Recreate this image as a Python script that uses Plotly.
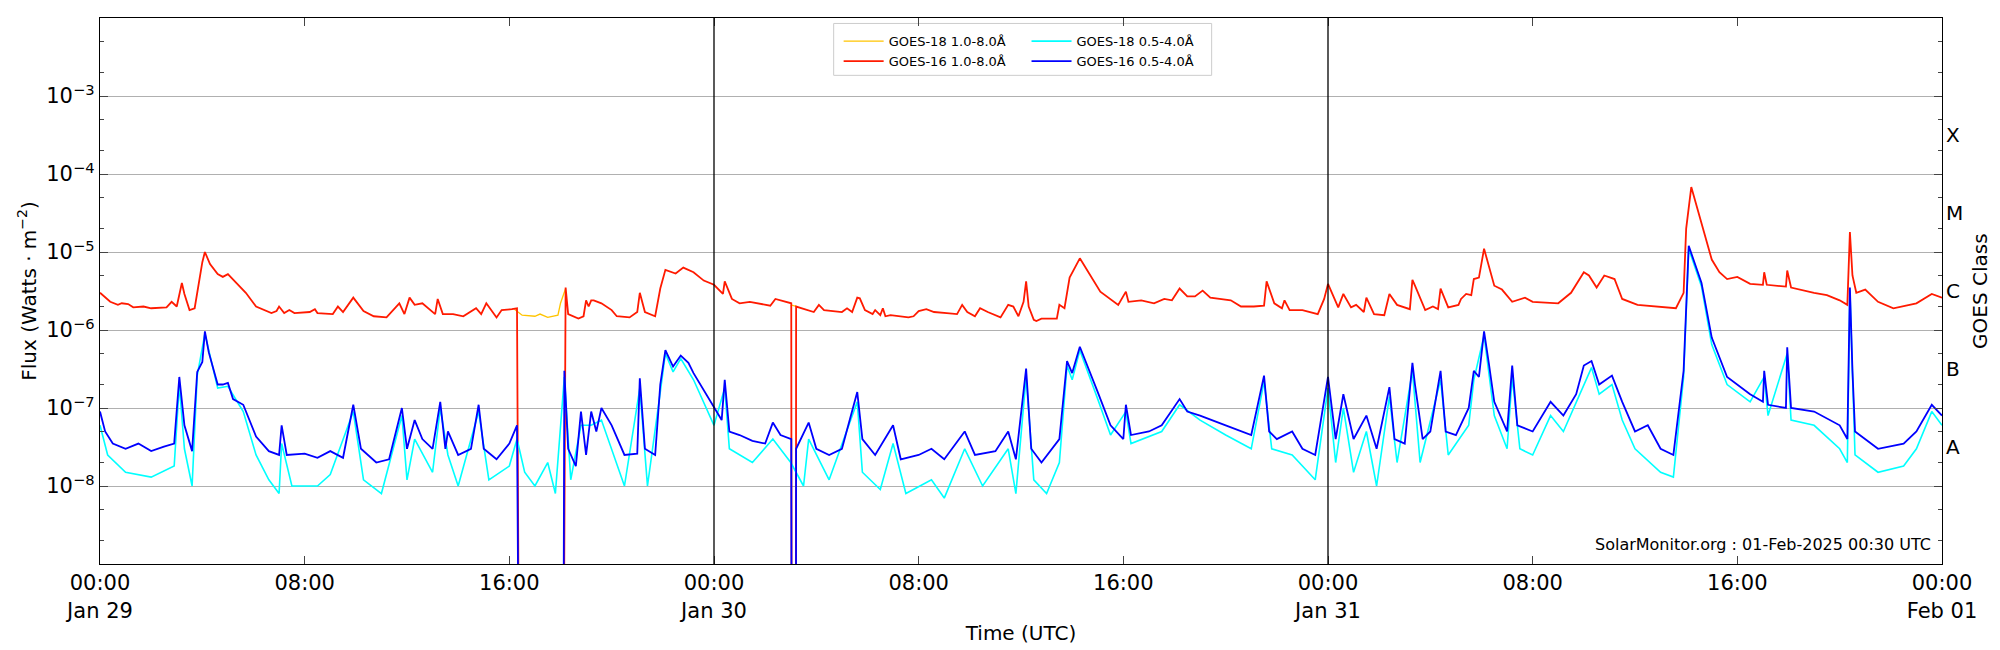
import plotly.graph_objects as go
import pandas as pd

BASE = pd.Timestamp("2025-01-29 00:00")
GAP = None
LOW = 1e-12  # data dropout (drawn as vertical drop to bottom)

red_h = [0.0,0.4,0.7,0.85,1.1,1.3,1.7,2.0,2.6,2.8,3.0,3.2,3.3,3.5,3.7,3.9,4.0,4.1,4.3,4.6,4.8,5.0,5.7,6.1,6.7,6.9,7.0,7.2,7.4,7.6,8.2,8.4,8.5,9.1,9.3,9.5,9.9,10.3,10.7,11.2,11.5,11.7,11.9,12.1,12.3,12.6,13.1,13.2,13.4,13.8,14.2,14.7,14.9,15.1,15.5,15.7,16.1,16.3,16.4,GAP,
         18.1,18.2,18.3,18.7,18.9,19.0,19.1,19.2,19.3,19.6,20.0,20.2,20.7,21.0,21.1,21.3,21.7,21.9,22.1,22.5,22.8,23.2,23.6,24.0,24.35,24.42,24.7,25.0,25.4,26.0,26.2,26.4,26.6,27.02,27.04,GAP,
         27.2,27.21,27.9,28.1,28.3,29.0,29.2,29.4,29.6,29.7,29.9,30.2,30.3,30.5,30.6,30.7,30.9,31.6,31.8,32.0,32.3,32.6,33.1,33.5,33.7,33.9,34.2,34.4,34.7,35.2,35.5,35.7,35.9,36.1,36.2,36.3,36.5,36.6,36.8,37.4,37.5,37.7,37.9,38.3,39.1,39.8,40.1,40.2,40.7,41.2,41.6,41.9,42.2,42.5,42.8,43.1,43.4,44.2,44.6,45.1,45.5,45.6,45.9,46.2,46.3,46.5,47.0,47.6,47.85,
         48.0,48.4,48.6,48.9,49.1,49.4,49.5,49.8,50.2,50.4,50.7,51.2,51.3,51.4,51.8,52.1,52.3,52.4,52.7,53.1,53.2,53.4,53.6,53.7,53.9,54.1,54.5,54.8,55.2,55.7,56.0,57.0,57.5,58.0,58.2,58.5,58.8,59.2,59.5,60.1,61.0,61.6,61.9,62.0,62.2,62.5,63.0,63.3,63.6,64.0,64.5,65.0,65.05,65.15,65.9,65.95,66.1,67.0,67.5,68.0,68.3,68.4,68.5,68.65,69.0,69.5,70.1,71.0,71.6,72.0]
red_v = [3.0e-6,2.3e-6,2.1e-6,2.2e-6,2.15e-6,1.95e-6,2.0e-6,1.9e-6,1.95e-6,2.3e-6,2.0e-6,4.0e-6,2.9e-6,1.8e-6,1.9e-6,4.5e-6,7.4e-6,1.0e-5,7.0e-6,5.2e-6,4.8e-6,5.2e-6,3.0e-6,2.0e-6,1.65e-6,1.75e-6,2.0e-6,1.65e-6,1.8e-6,1.65e-6,1.7e-6,1.85e-6,1.65e-6,1.6e-6,2.0e-6,1.7e-6,2.6e-6,1.75e-6,1.5e-6,1.45e-6,1.9e-6,2.2e-6,1.6e-6,2.6e-6,2.1e-6,2.2e-6,1.6e-6,2.5e-6,1.6e-6,1.6e-6,1.5e-6,1.9e-6,1.6e-6,2.2e-6,1.45e-6,1.8e-6,1.85e-6,1.9e-6,LOW,GAP,
         LOW,3.5e-6,1.6e-6,1.4e-6,1.5e-6,2.4e-6,2.0e-6,2.4e-6,2.4e-6,2.2e-6,1.8e-6,1.5e-6,1.45e-6,1.7e-6,3.0e-6,1.7e-6,1.5e-6,3.4e-6,5.9e-6,5.3e-6,6.3e-6,5.5e-6,4.3e-6,3.8e-6,2.9e-6,4.2e-6,2.5e-6,2.2e-6,2.3e-6,2.1e-6,2.05e-6,2.5e-6,2.4e-6,2.2e-6,LOW,GAP,
         LOW,2.0e-6,1.7e-6,2.1e-6,1.8e-6,1.7e-6,1.9e-6,1.7e-6,2.6e-6,2.55e-6,1.8e-6,1.6e-6,1.8e-6,1.55e-6,1.9e-6,1.5e-6,1.55e-6,1.45e-6,1.5e-6,1.75e-6,1.85e-6,1.7e-6,1.65e-6,1.6e-6,2.1e-6,1.7e-6,1.5e-6,1.9e-6,1.7e-6,1.45e-6,2.1e-6,2.0e-6,1.5e-6,2.3e-6,4.2e-6,2.0e-6,1.35e-6,1.3e-6,1.4e-6,1.4e-6,2.1e-6,1.9e-6,4.7e-6,8.3e-6,3.1e-6,2.1e-6,3.1e-6,2.3e-6,2.4e-6,2.2e-6,2.5e-6,2.4e-6,3.4e-6,2.7e-6,2.7e-6,3.2e-6,2.6e-6,2.4e-6,2.0e-6,2.0e-6,2.05e-6,4.2e-6,2.2e-6,1.9e-6,2.4e-6,1.8e-6,1.8e-6,1.6e-6,2.5e-6,
         3.9e-6,1.95e-6,2.9e-6,1.95e-6,2.1e-6,1.7e-6,2.6e-6,1.6e-6,1.55e-6,2.9e-6,2.1e-6,1.85e-6,4.4e-6,3.7e-6,1.8e-6,2.0e-6,1.85e-6,3.4e-6,1.95e-6,2.1e-6,2.5e-6,2.9e-6,2.8e-6,4.5e-6,4.7e-6,1.1e-5,3.7e-6,3.3e-6,2.3e-6,2.6e-6,2.3e-6,2.2e-6,3.0e-6,5.5e-6,5.0e-6,3.5e-6,5.0e-6,4.5e-6,2.5e-6,2.1e-6,2.0e-6,1.9e-6,3.0e-6,2.0e-5,6.8e-5,3.0e-5,8.0e-6,5.5e-6,4.5e-6,4.8e-6,3.9e-6,3.8e-6,5.5e-6,3.8e-6,3.6e-6,5.8e-6,3.5e-6,3.0e-6,2.8e-6,2.4e-6,2.1e-6,1.8e-5,5.0e-6,3.0e-6,3.3e-6,2.3e-6,1.9e-6,2.2e-6,2.9e-6,2.6e-6]

blue_h = [0.0,0.2,0.5,1.0,1.5,2.0,2.5,2.9,3.1,3.3,3.6,3.8,4.0,4.1,4.25,4.6,4.8,5.0,5.2,5.6,6.1,6.6,7.0,7.1,7.3,8.0,8.5,9.0,9.5,9.9,10.2,10.8,11.3,11.8,12.0,12.3,12.6,13.0,13.3,13.5,13.6,14.0,14.5,14.8,15.0,15.5,16.0,16.3,16.4,GAP,
          18.1,18.15,18.3,18.6,18.8,19.0,19.2,19.4,19.6,20.0,20.5,21.0,21.1,21.3,21.7,21.9,22.1,22.4,22.7,23.0,23.2,23.6,24.0,24.3,24.42,24.6,25.0,25.5,26.0,26.3,26.6,27.02,27.04,GAP,
          27.2,27.21,27.7,28.0,28.5,29.0,29.6,29.8,30.3,31.0,31.3,32.0,32.5,33.0,33.8,34.2,35.0,35.5,35.8,36.2,36.4,36.8,37.5,37.8,38.0,38.3,39.0,39.5,40.0,40.1,40.3,41.0,41.5,42.2,42.5,43.0,44.0,45.0,45.5,45.7,46.0,46.6,47.0,47.5,
          48.0,48.3,48.6,49.0,49.5,49.9,50.4,50.6,51.0,51.3,51.4,51.7,52.0,52.4,52.6,53.0,53.5,53.7,53.9,54.0,54.1,54.3,54.5,55.0,55.2,55.4,56.0,56.7,57.2,57.7,58.0,58.3,58.6,59.1,59.5,60.0,60.5,61.0,61.5,61.9,62.1,62.6,63.0,63.6,64.0,64.5,65.0,65.05,65.2,65.9,65.95,66.1,67.0,68.0,68.3,68.4,68.5,68.6,69.5,70.5,71.0,71.6,72.0]
blue_v = [9e-8,5e-8,3.5e-8,3e-8,3.5e-8,2.8e-8,3.2e-8,3.5e-8,2.5e-7,6e-8,2.8e-8,2.9e-7,3.9e-7,9.6e-7,5.2e-7,2.0e-7,2.0e-7,2.1e-7,1.3e-7,1.1e-7,4.3e-8,2.8e-8,2.5e-8,6e-8,2.5e-8,2.6e-8,2.3e-8,2.8e-8,2.3e-8,1.1e-7,3e-8,2e-8,2.2e-8,1e-7,3e-8,7e-8,4e-8,3e-8,1.2e-7,3e-8,5e-8,2.5e-8,3e-8,1.1e-7,3e-8,2.2e-8,3.5e-8,6e-8,LOW,GAP,
          LOW,3e-7,3e-8,1.8e-8,9e-8,2.5e-8,9e-8,5e-8,1e-7,6e-8,2.5e-8,2.6e-8,2.4e-7,3e-8,2.5e-8,2e-7,5.5e-7,3.4e-7,4.7e-7,3.8e-7,2.8e-7,1.7e-7,1.0e-7,7e-8,2.3e-7,5e-8,4.5e-8,3.8e-8,3.5e-8,6.5e-8,4.5e-8,4e-8,LOW,GAP,
          LOW,3e-8,6.5e-8,3e-8,2.5e-8,3e-8,1.6e-7,4e-8,2.5e-8,6e-8,2.2e-8,2.5e-8,3e-8,2.2e-8,5e-8,2.5e-8,2.8e-8,5e-8,2.2e-8,3.2e-7,3e-8,2e-8,4e-8,4e-7,2.8e-7,6.1e-7,1.6e-7,6e-8,4e-8,1.1e-7,4.5e-8,5e-8,6e-8,1.3e-7,9e-8,8e-8,6e-8,4.5e-8,2.6e-7,5e-8,4e-8,5e-8,3e-8,2.5e-8,
          2.5e-7,4e-8,1.5e-7,4e-8,8e-8,3e-8,1.85e-7,4e-8,3.5e-8,3.8e-7,2e-7,4e-8,5e-8,3e-7,5e-8,4.5e-8,1e-7,3e-7,2.5e-7,5.2e-7,9.6e-7,3.5e-7,1.2e-7,5e-8,3.5e-7,6e-8,5e-8,1.2e-7,8e-8,1.5e-7,3.5e-7,4e-7,2e-7,2.6e-7,1.2e-7,5e-8,6e-8,3e-8,2.5e-8,3e-7,1.2e-5,4e-6,8e-7,2.5e-7,2e-7,1.5e-7,1.2e-7,3e-7,1.1e-7,1e-7,6e-7,1e-7,9e-8,6e-8,4e-8,3.5e-6,3e-7,5e-8,3e-8,3.5e-8,5e-8,1.1e-7,8e-8]

cyan_h = [0.0,0.3,1.0,2.0,2.9,3.1,3.3,3.6,3.8,4.1,4.6,5.0,5.6,6.1,6.6,7.0,7.1,7.5,8.5,9.0,9.9,10.3,11.0,11.8,12.0,12.3,13.0,13.3,13.6,14.0,14.8,15.2,16.0,16.3,16.6,17.0,17.5,17.8,18.15,18.4,18.8,19.2,19.6,20.0,20.5,21.1,21.4,21.9,22.1,22.4,22.7,23.2,24.0,24.42,24.6,25.5,26.3,27.0,27.5,27.7,28.5,29.6,29.8,30.5,31.0,31.5,32.5,33.0,33.8,34.5,35.5,35.8,36.2,36.5,37.0,37.5,37.8,38.0,38.3,39.0,39.5,40.1,40.3,41.5,42.2,43.0,44.0,45.0,45.5,45.8,46.6,47.5,
          48.0,48.3,48.6,49.0,49.5,49.9,50.4,50.7,51.3,51.6,52.4,52.7,53.5,53.7,54.1,54.5,55.0,55.2,55.5,56.0,56.7,57.2,58.3,58.6,59.1,59.5,60.0,61.0,61.5,61.9,62.1,62.6,63.0,63.6,64.5,65.05,65.2,65.95,66.1,67.0,68.0,68.3,68.4,68.6,69.5,70.5,71.0,71.6,72.0]
cyan_v = [6e-8,2.5e-8,1.5e-8,1.3e-8,1.8e-8,2e-7,3e-8,1e-8,2.6e-7,9e-7,1.8e-7,1.9e-7,9e-8,2.5e-8,1.2e-8,8e-9,3.5e-8,1e-8,1e-8,1.4e-8,9e-8,1.2e-8,8e-9,8e-8,1.2e-8,4e-8,1.5e-8,1e-7,2.5e-8,1e-8,9e-8,1.2e-8,1.8e-8,4e-8,1.5e-8,1e-8,2e-8,8e-9,2.5e-7,1.2e-8,6e-8,6e-8,7e-8,3e-8,1e-8,1.8e-7,1e-8,1.6e-7,5e-7,2.9e-7,4.3e-7,2.3e-7,6e-8,1.8e-7,3e-8,2e-8,4e-8,2e-8,1e-8,4e-8,1.2e-8,1.2e-7,1.5e-8,9e-9,3.5e-8,8e-9,1.2e-8,7e-9,3e-8,1e-8,3e-8,8e-9,2.5e-7,1.2e-8,8e-9,2e-8,3.5e-7,2.3e-7,5.5e-7,1.3e-7,4.5e-8,9e-8,3.5e-8,5e-8,1.1e-7,7e-8,4.5e-8,3e-8,2.2e-7,3e-8,2.5e-8,1.2e-8,
          1.8e-7,2e-8,1e-7,1.5e-8,5e-8,1e-8,1.4e-7,2e-8,3e-7,2e-8,2.3e-7,2.5e-8,6e-8,2.3e-7,8.5e-7,8e-8,3e-8,2.5e-7,3e-8,2.5e-8,8e-8,5e-8,3.3e-7,1.5e-7,2e-7,7e-8,3e-8,1.5e-8,1.3e-8,2.5e-7,1.1e-5,3.6e-6,6.5e-7,2e-7,1.2e-7,2.5e-7,8e-8,5e-7,7e-8,6e-8,3e-8,2e-8,3.2e-6,2.5e-8,1.5e-8,1.8e-8,3e-8,9e-8,6e-8]

yellow_h = [16.2,16.5,17.0,17.2,17.5,17.9,18.0,18.2,GAP,27.0,27.1,27.25]
yellow_v = [1.85e-6,1.55e-6,1.5e-6,1.6e-6,1.45e-6,1.55e-6,2.2e-6,3.4e-6,GAP,2.1e-6,2.05e-6,2.0e-6]

tick_hours = [0, 8, 16, 24, 32, 40, 48, 56, 64, 72]
tick_text = ["00:00<br>Jan 29", "08:00", "16:00", "00:00<br>Jan 30", "08:00", "16:00",
             "00:00<br>Jan 31", "08:00", "16:00", "00:00<br>Feb 01"]
flux_ticks = [1e-8, 1e-7, 1e-6, 1e-5, 1e-4, 1e-3]
flux_text = ["10<sup>−8</sup>", "10<sup>−7</sup>", "10<sup>−6</sup>", "10<sup>−5</sup>", "10<sup>−4</sup>", "10<sup>−3</sup>"]
class_letters = ["A", "B", "C", "M", "X"]
class_pos = [-7.5, -6.5, -5.5, -4.5, -3.5]
day_lines = [24, 48]


def t(hours):
    return [None if h is None else BASE + pd.Timedelta(hours=h) for h in hours]


fig = go.Figure()
fig.add_trace(go.Scatter(x=t(yellow_h), y=yellow_v, mode="lines", name="GOES-18 1.0-8.0Å",
                         line=dict(color="#FFC400", width=1.3), legend="legend"))
fig.add_trace(go.Scatter(x=t(red_h), y=red_v, mode="lines", name="GOES-16 1.0-8.0Å",
                         line=dict(color="#FF1A00", width=1.8), legend="legend"))
fig.add_trace(go.Scatter(x=t(cyan_h), y=cyan_v, mode="lines", name="GOES-18 0.5-4.0Å",
                         line=dict(color="#00FFFF", width=1.6), legend="legend2"))
fig.add_trace(go.Scatter(x=t(blue_h), y=blue_v, mode="lines", name="GOES-16 0.5-4.0Å",
                         line=dict(color="#0000FF", width=1.8), legend="legend2"))

for d in day_lines:
    fig.add_shape(type="line", xref="x", yref="paper", x0=BASE + pd.Timedelta(hours=d),
                  x1=BASE + pd.Timedelta(hours=d), y0=0, y1=1, line=dict(color="black", width=1.3))

for L, p in zip(class_letters, class_pos):
    fig.add_annotation(x=1.0, xref="paper", xanchor="left", xshift=2, y=p, yref="y",
                       text=L, showarrow=False, font=dict(size=20, color="black"))
fig.add_annotation(x=1.0, xref="paper", xanchor="left", xshift=24, y=0.5, yref="paper", text="GOES Class",
                   textangle=-90, showarrow=False, font=dict(size=20, color="black"))
fig.add_annotation(x=0.995, xref="paper", xanchor="right", y=0.015, yref="paper", yanchor="bottom",
                   text="SolarMonitor.org : 01-Feb-2025 00:30 UTC", showarrow=False,
                   font=dict(size=16, color="black"))
# legend frame
fig.add_shape(type="rect", xref="paper", yref="paper", x0=0.3983, x1=0.6035, y0=0.895, y1=0.99,
              line=dict(color="#cccccc", width=1), fillcolor="white", layer="below")

fig.update_layout(
    width=2000, height=650,
    margin=dict(l=92, r=66, t=10, b=94),
    paper_bgcolor="white", plot_bgcolor="white",
    font=dict(family="DejaVu Sans", color="black"),
    legend=dict(x=0.401, y=0.985, xanchor="left", yanchor="top", bgcolor="rgba(0,0,0,0)",
                font=dict(size=13), tracegroupgap=0, itemwidth=40),
    legend2=dict(x=0.503, y=0.985, xanchor="left", yanchor="top", bgcolor="rgba(0,0,0,0)",
                 font=dict(size=13), tracegroupgap=0, itemwidth=40),
    xaxis=dict(range=[BASE, BASE + pd.Timedelta(hours=72)], tickvals=t(tick_hours), ticktext=tick_text,
               ticks="inside", ticklen=8, tickwidth=1.2, showline=True, linecolor="black", linewidth=1.3,
               mirror="ticks", showgrid=False, tickfont=dict(size=21),
               title=dict(text="Time (UTC)", font=dict(size=20), standoff=4)),
    yaxis=dict(type="log", range=[-9, -2], tickvals=flux_ticks, ticktext=flux_text,
               ticks="inside", ticklen=8, tickwidth=1.2, showline=True, linecolor="black", linewidth=1.3,
               mirror="ticks", showgrid=True, gridcolor="#b0b0b0", gridwidth=1,
               minor=dict(ticks="inside", ticklen=4, showgrid=False), tickfont=dict(size=21),
               title=dict(text="Flux (Watts · m<sup>−2</sup>)", font=dict(size=20), standoff=4)),
)

fig.write_html("out.html")
